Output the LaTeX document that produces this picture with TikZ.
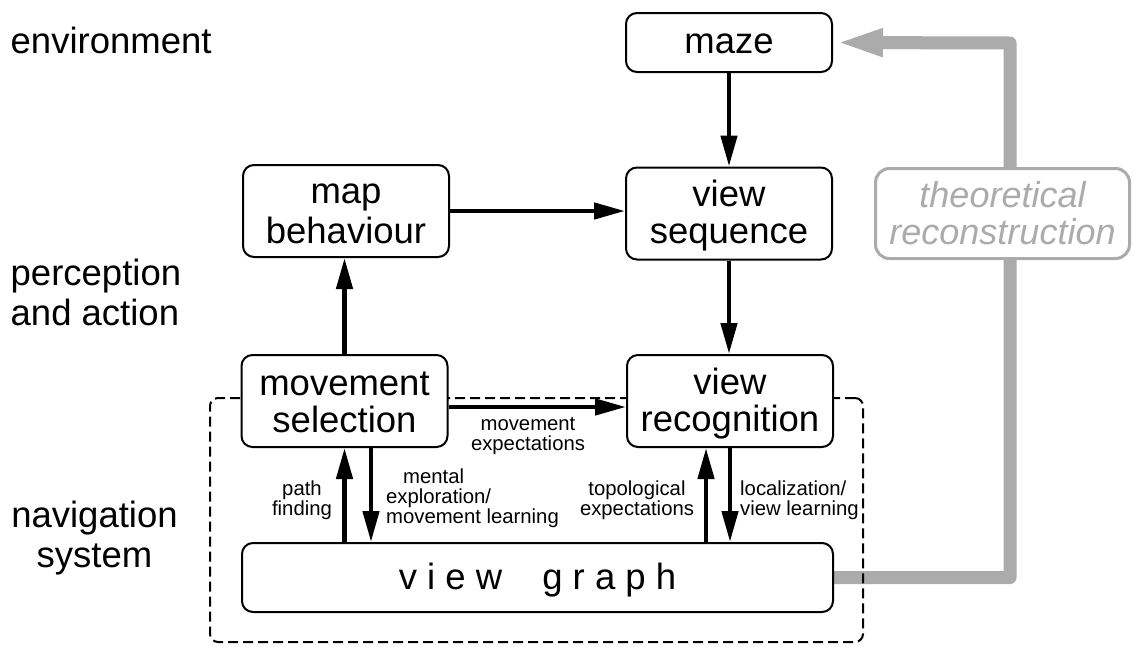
\documentclass[tikz,border=0pt]{standalone}
\usepackage{fontspec}
\setmainfont{Liberation Sans}
\usetikzlibrary{arrows.meta}
\definecolor{recgray}{HTML}{ABABAB}
\newcommand\bigfnt{\fontsize{36.5pt}{37pt}\selectfont}
\newcommand\smallfnt{\fontsize{20.3pt}{20pt}\selectfont}
\newcommand\recfnt{\fontsize{36pt}{37pt}\selectfont\itshape}
% invisible strut of given height and depth
\newcommand\lstrut[2]{\rule[-#2]{0pt}{\dimexpr#1+#2\relax}}
\newcommand\bst{\lstrut{31pt}{6pt}}
\newcommand\sst{\lstrut{15pt}{5pt}}
\pgfdeclarelayer{back}
\pgfsetlayers{back,main}
\begin{document}
\begin{tikzpicture}[x=1pt,y=-1pt,
  box/.style={draw, line width=2pt, rounded corners=11pt, fill=white,
    inner sep=0pt, align=center, font=\bigfnt,
    minimum width=206pt, minimum height=92pt},
  recbox/.style={draw=recgray, text=recgray, line width=3pt,
    rounded corners=14pt, fill=white, inner sep=0pt, align=center,
    font=\recfnt, minimum width=254pt, minimum height=90pt},
  navframe/.style={draw, line width=2pt, dash pattern=on 10pt off 5pt,
    rounded corners=8pt, inner sep=0pt},
  lbl/.style={inner sep=0pt, font=\smallfnt},
  side/.style={inner sep=0pt, font=\bigfnt},
  arr/.style={line width=4.5pt, -{Triangle[length=31pt,width=16pt]}},
  recline/.style={draw=recgray, line width=13pt, line join=round,
    -{Triangle[length=48pt,width=25pt]}}
]
\useasboundingbox (0,0) rectangle (1136,646);

% level names
\node[side, anchor=base west] (env) at (10.5,53) {environment};
\node[side, align=left, anchor=west] (pa) at (10.5,293) {\bst perception\\and action\bst};
\node[side, align=center] (ns) at (94.5,536) {\bst navigation\\system\bst};

% frame of the navigation system
\node[navframe, minimum width=653pt, minimum height=244pt] (nav) at (536.5,520) {};

% processing stages
\node[box, minimum height=59pt] (maze) at (729,42.5) {\lstrut{29pt}{8pt}maze};
\node[box] (vs) at (729,213.5) {\bst view\\sequence\bst};
\node[box] (mb) at (346,211) {\bst map\\behaviour\bst};
\node[box] (ms) at (344.5,401) {\bst movement\\selection\bst};
\node[box] (vr) at (730,401) {\bst view\\recognition\bst};
\node[box, minimum width=591pt, minimum height=69pt] (vg) at (537.5,577.5)
  {\bst v i e w\hspace{30pt} g r a p h};

% reconstruction loop
\coordinate (bend) at (1010,43);
\begin{pgfonlayer}{back}
  \draw[recline] (vg.east) -| (bend) -- ([xshift=2pt]maze.east);
\end{pgfonlayer}
\node[recbox] (tr) at (1002.5,213.5)
  {\bst theoretical\\reconstruction\bst};

% information flow
\coordinate (msd) at ([xshift=26.5pt]ms.south);
\coordinate (vru) at ([xshift=-24pt]vr.south);
\coordinate (mse) at ([yshift=-6pt]ms.east);
\draw[arr] (maze.south) -- (vs.north);
\draw[arr] (vs.south) -- (vs.south |- vr.north);
\draw[arr] (mb.east) -- (mb.east -| vs.west);
\draw[arr] (ms.north) -- (ms.north |- mb.south);
\draw[arr] (mse) -- (mse -| vr.west);
\draw[arr] (ms.south |- vg.north) -- (ms.south);
\draw[arr] (msd) -- (msd |- vg.north);
\draw[arr] (vru |- vg.north) -- (vru);
\draw[arr] (vr.south) -- (vr.south |- vg.north);

% connector labels
\node[lbl, align=center] (mx) at (528,435) {\sst movement\\expectations\sst};
\node[lbl, align=center] (pf) at (302,500) {\sst path\\finding\sst};
\node[lbl, align=left, anchor=west] (me) at (386,498)
  {\sst\hspace{17pt}mental\\exploration/\\movement learning\sst};
\node[lbl, align=center] (te) at (637,500) {\sst topological\\expectations\sst};
\node[lbl, align=left, anchor=west] (lv) at (740,500)
  {\sst localization/\\view learning\sst};
\end{tikzpicture}
\end{document}
